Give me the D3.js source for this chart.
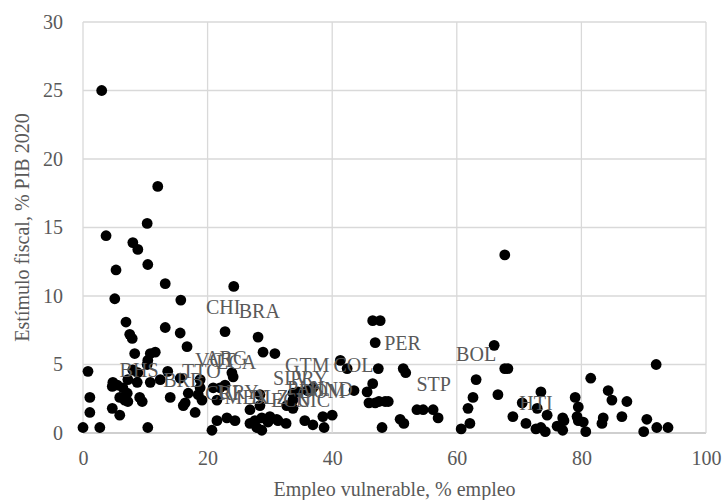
<!DOCTYPE html>
<html lang="es">
<head>
<meta charset="UTF-8">
<title>Estimulo fiscal vs empleo vulnerable</title>
<style>
  body { margin: 0; background: #fff; }
  text { font-family: "Liberation Serif", "DejaVu Serif", serif; fill: #595959; }
</style>
</head>
<body>
<svg id="chart"></svg>
<script src="https://d3js.org/d3.v7.min.js"></script>
<script>
// empleo vulnerable (% empleo)
const vulnerable = [
  3.0, 3.7, 5.3, 5.1, 6.9, 7.5, 7.9, 8.0, 8.8, 10.3, 10.4, 12.0, 13.2, 13.2, 15.7, 15.6, 16.7, 24.2, 22.8, 28.1,
  28.9, 30.8, 8.3, 10.8, 11.6, 10.4, 10.3, 41.3, 42.4, 46.9, 46.5, 47.7, 47.4, 51.4, 51.8, 46.5, 43.5, 45.6, 45.9, 46.9,
  47.5, 48.5, 49.0, 48.0, 50.9, 51.5, 53.6, 54.6, 56.2, 57.0, 60.7, 62.1, 61.8, 62.6, 63.1, 66.0, 67.7, 68.2, 67.7, 66.6,
  73.5, 70.5, 72.9, 69.0, 71.1, 72.7, 73.5, 74.2, 74.5, 76.1, 77.0, 77.0, 77.2, 79.0, 79.5, 79.3, 79.5, 80.3, 80.7, 81.5,
  83.5, 83.3, 84.3, 84.9, 87.3, 86.5, 90.5, 90.0, 92.0, 92.1, 93.9,
  0.0, 2.7, 0.8, 1.1, 1.1, 4.8, 5.5, 4.7, 4.7, 5.9, 5.9, 6.7, 7.2, 6.4, 7.1, 7.2, 8.7, 8.0, 8.8, 9.1,
  9.5, 10.4, 10.8, 12.4, 13.6, 14.0, 15.6, 16.4, 16.1, 16.9, 18.0, 18.8, 18.8, 18.5, 19.1, 20.7, 21.5, 21.5, 23.1, 24.4,
  22.8, 23.9, 24.1, 20.9, 22.0, 26.8, 27.6, 28.7, 29.7, 31.3, 26.8, 27.9, 28.7, 28.4, 28.4, 30.0, 31.1, 32.6, 33.7, 34.5,
  36.0, 36.9, 33.7, 32.7, 33.7, 35.6, 36.9, 38.5, 40.0, 38.7
];
// estimulo fiscal (% PIB 2020)
const estimulo = [
  25.0, 14.4, 11.9, 9.8, 8.1, 7.2, 6.9, 13.9, 13.4, 15.3, 12.3, 18.0, 10.9, 7.7, 9.7, 7.3, 6.3, 10.7, 7.4, 7.0,
  5.9, 5.8, 5.8, 5.8, 5.9, 5.3, 5.0, 5.3, 4.7, 6.6, 8.2, 8.2, 4.7, 4.7, 4.4, 3.6, 3.1, 3.0, 2.2, 2.2,
  2.3, 2.3, 2.3, 0.4, 1.0, 0.7, 1.7, 1.7, 1.7, 1.1, 0.3, 0.7, 1.8, 2.6, 3.9, 6.4, 4.7, 4.7, 13.0, 2.8,
  3.0, 2.2, 1.8, 1.2, 0.7, 0.3, 0.4, 0.1, 1.3, 0.5, 0.2, 1.1, 0.9, 2.6, 1.9, 1.2, 0.9, 0.8, 0.1, 4.0,
  1.1, 0.7, 3.1, 2.4, 2.3, 1.2, 1.0, 0.1, 5.0, 0.4, 0.4,
  0.4, 0.4, 4.5, 2.6, 1.5, 3.7, 3.5, 3.4, 1.8, 1.3, 2.6, 2.4, 2.3, 3.3, 2.9, 3.9, 3.7, 4.6, 4.4, 2.6,
  2.3, 0.4, 3.7, 3.9, 4.5, 2.6, 4.0, 2.2, 2.0, 2.9, 1.5, 3.9, 3.3, 2.8, 2.4, 0.2, 2.4, 0.9, 1.1, 0.9,
  3.5, 4.4, 4.1, 3.3, 3.3, 1.7, 0.9, 1.1, 0.8, 0.9, 0.7, 0.4, 0.2, 2.8, 2.0, 1.2, 1.0, 0.7, 2.9, 3.0,
  3.1, 3.3, 2.4, 2.0, 1.8, 0.9, 0.6, 1.2, 1.3, 0.4
];

// etiquetas de paises (posicion del texto en unidades de los ejes)
const labelCodes = ['CHI', 'BRA', 'PER', 'COL', 'STP', 'BOL', 'HTI', 'GTM', 'PRY', 'SLV', 'PAN', 'DOM', 'HND',
  'NIC', 'ECU', 'BLZ', 'MEX', 'CRI', 'URY', 'BHS', 'BRB', 'TTO', 'VCT', 'ARG', 'LCA'];
const labelX = [22.5, 28.3, 51.3, 43.4, 56.3, 63.1, 72.7, 36.0, 36.3, 33.4, 35.8, 38.4, 39.8,
  36.9, 33.4, 30.0, 26.3, 22.3, 24.9, 9.0, 16.1, 19.0, 21.2, 23.0, 24.6];
const labelY = [9.2, 8.9, 6.6, 5.0, 3.6, 5.8, 2.2, 5.0, 4.0, 4.0, 3.3, 3.1, 3.2,
  2.4, 2.4, 2.6, 2.6, 2.9, 3.0, 4.6, 3.9, 4.5, 5.3, 5.5, 5.2];

const xTicks = [0, 20, 40, 60, 80, 100];
const yTicks = [0, 5, 10, 15, 20, 25, 30];

const width = 722, height = 500;
const margin = { top: 22, right: 16, bottom: 67, left: 83 };

const svg = d3.select('#chart').attr('width', width).attr('height', height);

const x = d3.scaleLinear().domain([0, 100]).range([margin.left, width - margin.right]);
const y = d3.scaleLinear().domain([0, 30]).range([height - margin.bottom, margin.top]);

// lineas de cuadricula
svg.append('g')
  .selectAll('line')
  .data(yTicks)
  .join('line')
  .attr('x1', x(0)).attr('x2', x(100))
  .attr('y1', d => y(d)).attr('y2', d => y(d))
  .attr('stroke', d => d === 0 ? '#bfbfbf' : '#d9d9d9')
  .attr('stroke-width', 1.3);

svg.append('g')
  .selectAll('line')
  .data(xTicks)
  .join('line')
  .attr('x1', d => x(d)).attr('x2', d => x(d))
  .attr('y1', y(0)).attr('y2', y(30))
  .attr('stroke', '#d9d9d9')
  .attr('stroke-width', 1.3);

// ejes (solo etiquetas)
const xAxis = d3.axisBottom(x).tickValues(xTicks).tickSize(0).tickPadding(18);
const yAxis = d3.axisLeft(y).tickValues(yTicks).tickSize(0).tickPadding(20);

svg.append('g')
  .attr('transform', `translate(0,${y(0)})`)
  .call(xAxis)
  .call(g => g.select('.domain').remove())
  .selectAll('text')
  .attr('font-size', 20)
  .attr('font-family', 'Liberation Serif')
  .attr('fill', '#595959');

svg.append('g')
  .attr('transform', `translate(${x(0)},0)`)
  .call(yAxis)
  .call(g => g.select('.domain').remove())
  .selectAll('text')
  .attr('font-size', 20)
  .attr('font-family', 'Liberation Serif')
  .attr('fill', '#595959');

// puntos
const points = vulnerable.map((v, i) => ({ v, e: estimulo[i] }));
svg.append('g')
  .selectAll('circle')
  .data(points)
  .join('circle')
  .attr('cx', d => x(d.v))
  .attr('cy', d => y(d.e))
  .attr('r', 5.4)
  .attr('fill', '#000');

// etiquetas
svg.append('g')
  .selectAll('text')
  .data(labelCodes)
  .join('text')
  .attr('x', (d, i) => x(labelX[i]))
  .attr('y', (d, i) => y(labelY[i]))
  .attr('dy', '0.35em')
  .attr('text-anchor', 'middle')
  .attr('font-size', 20)
  .text(d => d);

// titulos de ejes
svg.append('text')
  .attr('x', (x(0) + x(100)) / 2)
  .attr('y', 496)
  .attr('text-anchor', 'middle')
  .attr('font-size', 20)
  .text('Empleo vulnerable, % empleo');

svg.append('text')
  .attr('transform', `translate(29,${(y(0) + y(30)) / 2}) rotate(-90)`)
  .attr('text-anchor', 'middle')
  .attr('font-size', 20)
  .text('Estímulo fiscal, % PIB 2020');
</script>
</body>
</html>
